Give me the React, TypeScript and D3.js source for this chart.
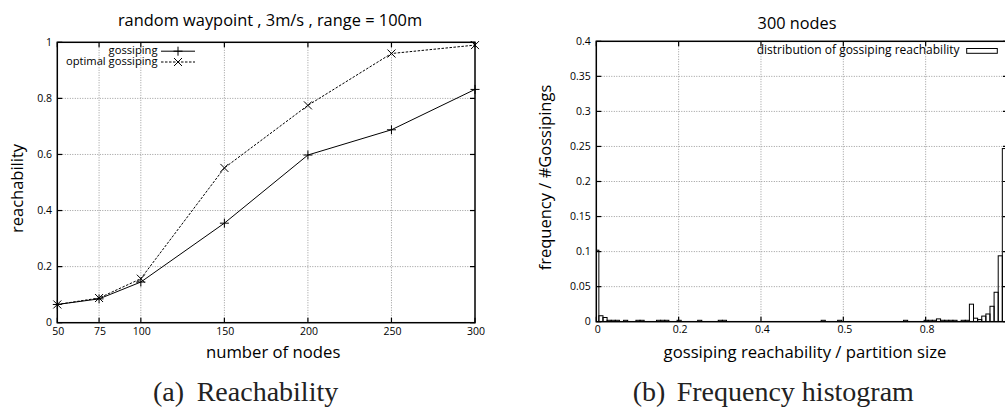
import React from "react";
import * as d3 from "d3";

// ---- Left chart data ----
const nodeCounts = [50, 75, 100, 150, 200, 250, 300];
const gossiping = [0.065, 0.085, 0.145, 0.355, 0.598, 0.688, 0.832];
const optimalGossiping = [0.065, 0.088, 0.157, 0.552, 0.775, 0.96, 0.99];
const leftXTicks = [50, 75, 100, 150, 200, 250, 300];
const leftYTicks = [0, 0.2, 0.4, 0.6, 0.8, 1];
const leftYTickLabels = ["0", "0.2", "0.4", "0.6", "0.8", "1"];

// ---- Right chart data (bin centers, frequency) ----
const binCenters = [
  0, 0.01, 0.02, 0.03, 0.04, 0.05, 0.07, 0.1, 0.11, 0.15, 0.16, 0.17, 0.2, 0.25, 0.3, 0.31,
  0.55, 0.59, 0.75, 0.8, 0.81, 0.82, 0.83, 0.84, 0.85, 0.86, 0.87, 0.89, 0.9, 0.91, 0.92,
  0.93, 0.94, 0.95, 0.96, 0.97, 0.98, 0.99,
];
const binFreqs = [
  0.102, 0.0085, 0.006, 0.002, 0.002, 0.002, 0.002, 0.002, 0.002, 0.002, 0.002, 0.002, 0.002,
  0.002, 0.002, 0.002, 0.002, 0.002, 0.002, 0.002, 0.002, 0.002, 0.004, 0.002, 0.002, 0.002,
  0.002, 0.002, 0.002, 0.025, 0.005, 0.003, 0.008, 0.011, 0.022, 0.042, 0.094, 0.247,
];
const binWidth = 0.01;
const rightXTicks = [0, 0.2, 0.4, 0.6, 0.8];
const rightXTickLabels = ["0", "0.2", "0.4", "0.5", "0.8"];
const rightYTicks = [0, 0.05, 0.1, 0.15, 0.2, 0.25, 0.3, 0.35, 0.4];
const rightYTickLabels = ["0", "0.05", "0.1", "0.15", "0.2", "0.25", "0.3", "0.35", "0.4"];

const SANS = "'Open Sans', 'Noto Sans', sans-serif";
const SERIF = "'Liberation Serif', serif";
const GRID = "#9a9a9a";

export default function App() {
  const xA = d3.scaleLinear().domain([50, 300]).range([57.3, 475]);
  const yA = d3.scaleLinear().domain([0, 1]).range([322.7, 42.3]);
  const xB = d3.scaleLinear().domain([0, 1]).range([596.3, 1008]);
  const yB = d3.scaleLinear().domain([0, 0.4]).range([321.7, 41.3]);

  const lineGen = d3
    .line<[number, number]>()
    .x((d) => xA(d[0]))
    .y((d) => yA(d[1]));
  const gPts: [number, number][] = nodeCounts.map((n, i) => [n, gossiping[i]]);
  const oPts: [number, number][] = nodeCounts.map((n, i) => [n, optimalGossiping[i]]);

  const plus = (x: number, y: number, k: string) => (
    <g key={k} stroke="#000" strokeWidth={1}>
      <line x1={x - 4.5} x2={x + 4.5} y1={y} y2={y} />
      <line x1={x} x2={x} y1={y - 4.5} y2={y + 4.5} />
    </g>
  );
  const cross = (x: number, y: number, k: string) => (
    <g key={k} stroke="#000" strokeWidth={1}>
      <line x1={x - 4} x2={x + 4} y1={y - 4} y2={y + 4} />
      <line x1={x - 4} x2={x + 4} y1={y + 4} y2={y - 4} />
    </g>
  );

  const [aL, aR] = xA.range();
  const [aB, aT] = yA.range();
  const [bL, bR] = xB.range();
  const [bB, bT] = yB.range();

  return (
    <svg
      width={1005}
      height={408}
      style={{ position: "absolute", left: 0, top: 0, background: "#fff" }}
    >
      <rect x={0} y={0} width={1005} height={408} fill="#fff" />
      {/* ================= LEFT CHART ================= */}
      <g>
        {leftXTicks.slice(1, -1).map((t) => (
          <line key={"gx" + t} x1={xA(t)} x2={xA(t)} y1={aT} y2={aB} stroke={GRID} strokeWidth={1} strokeDasharray="1,1.5" />
        ))}
        {leftYTicks.slice(1, -1).map((t) => (
          <line key={"gy" + t} x1={aL} x2={aR} y1={yA(t)} y2={yA(t)} stroke={GRID} strokeWidth={1} strokeDasharray="1,1.5" />
        ))}
        {leftXTicks.map((t) => (
          <g key={"tx" + t} stroke="#000" strokeWidth={1.2}>
            <line x1={xA(t)} x2={xA(t)} y1={aB} y2={aB - 5} />
            <line x1={xA(t)} x2={xA(t)} y1={aT} y2={aT + 5} />
          </g>
        ))}
        {leftYTicks.map((t) => (
          <g key={"ty" + t} stroke="#000" strokeWidth={1.2}>
            <line x1={aL} x2={aL + 5} y1={yA(t)} y2={yA(t)} />
            <line x1={aR} x2={aR - 5} y1={yA(t)} y2={yA(t)} />
          </g>
        ))}
        <rect x={aL} y={aT} width={aR - aL} height={aB - aT} fill="none" stroke="#000" strokeWidth={1.5} />
        <path d={lineGen(gPts) || ""} fill="none" stroke="#000" strokeWidth={1} />
        <path d={lineGen(oPts) || ""} fill="none" stroke="#000" strokeWidth={1} strokeDasharray="2.5,1.5" />
        {gPts.map((p, i) => plus(xA(p[0]), yA(p[1]), "gp" + i))}
        {oPts.map((p, i) => cross(xA(p[0]), yA(p[1]), "op" + i))}
        {leftXTicks.map((t) => (
          <text key={"lx" + t} x={xA(t) + 1} y={335} textAnchor="middle" fontFamily={SANS} fontSize={10.5} fill="#000">
            {t}
          </text>
        ))}
        {leftYTicks.map((t, i) => (
          <text key={"ly" + t} x={52} y={yA(t) + 3.5} textAnchor="end" fontFamily={SANS} fontSize={10.5} fill="#000">
            {leftYTickLabels[i]}
          </text>
        ))}
        {/* legend */}
        <text x={157.5} y={53.5} textAnchor="end" fontFamily={SANS} fontSize={11.2} fill="#000">gossiping</text>
        <line x1={161} x2={195} y1={51.2} y2={51.2} stroke="#000" strokeWidth={1} />
        {plus(178, 51.2, "legp")}
        <text x={157.5} y={64.5} textAnchor="end" fontFamily={SANS} fontSize={11.2} fill="#000">optimal gossiping</text>
        <line x1={161} x2={195} y1={62} y2={62} stroke="#000" strokeWidth={1} strokeDasharray="2.5,1.5" />
        {cross(178, 62, "lego")}
        {/* titles */}
        <text x={270} y={26} textAnchor="middle" fontFamily={SANS} fontSize={16.4} fill="#000">
          random waypoint , 3m/s , range = 100m
        </text>
        <text x={(aL + aR) / 2 + 7} y={357.5} textAnchor="middle" fontFamily={SANS} fontSize={16.7} fill="#000">
          number of nodes
        </text>
        <text transform={`translate(22.5,${(aT + aB) / 2 + 6}) rotate(-90)`} textAnchor="middle" fontFamily={SANS} fontSize={16.5} fill="#000">
          reachability
        </text>
        <text x={153} y={401} fontFamily={SERIF} fontSize={28} fill="#222">(a)</text>
        <text x={196.7} y={401} fontFamily={SERIF} fontSize={28} fill="#222">Reachability</text>
      </g>

      {/* ================= RIGHT CHART ================= */}
      <g>
        {rightXTicks.slice(1).map((t) => (
          <line key={"rgx" + t} x1={xB(t)} x2={xB(t)} y1={bT} y2={bB} stroke={GRID} strokeWidth={1} strokeDasharray="1,1.5" />
        ))}
        {rightYTicks.slice(1, -1).map((t) => (
          <line key={"rgy" + t} x1={bL} x2={bR} y1={yB(t)} y2={yB(t)} stroke={GRID} strokeWidth={1} strokeDasharray="1,1.5" />
        ))}
        {rightXTicks.map((t) => (
          <g key={"rtx" + t} stroke="#000" strokeWidth={1.2}>
            <line x1={xB(t)} x2={xB(t)} y1={bB} y2={bB - 5} />
            <line x1={xB(t)} x2={xB(t)} y1={bT} y2={bT + 5} />
          </g>
        ))}
        {rightYTicks.map((t) => (
          <g key={"rty" + t} stroke="#000" strokeWidth={1.2}>
            <line x1={bL} x2={bL + 5} y1={yB(t)} y2={yB(t)} />
            <line x1={bR} x2={bR - 5} y1={yB(t)} y2={yB(t)} />
          </g>
        ))}
        <defs>
          <clipPath id="histClip">
            <rect x={bL} y={bT} width={bR - bL} height={bB - bT} />
          </clipPath>
        </defs>
        <g clipPath="url(#histClip)">
          {binCenters.map((c, i) => {
            const x0 = xB(c - binWidth / 2);
            const x1 = xB(c + binWidth / 2);
            return (
              <rect
                key={"bar" + i}
                x={x0 + 0.5}
                y={yB(binFreqs[i])}
                width={x1 - x0}
                height={bB - yB(binFreqs[i])}
                fill="none"
                stroke="#000"
                strokeWidth={1}
              />
            );
          })}
        </g>
        <rect x={bL} y={bT} width={bR - bL} height={bB - bT} fill="none" stroke="#000" strokeWidth={1.5} />
        {rightXTicks.map((t, i) => (
          <text key={"rlx" + t} x={xB(t) + 1.5} y={333.3} textAnchor="middle" fontFamily={SANS} fontSize={10.5} fill="#000">
            {rightXTickLabels[i]}
          </text>
        ))}
        {rightYTicks.map((t, i) => (
          <text key={"rly" + t} x={590.7} y={yB(t) + 3.5} textAnchor="end" fontFamily={SANS} fontSize={10.5} fill="#000">
            {rightYTickLabels[i]}
          </text>
        ))}
        <text x={959.5} y={53.5} textAnchor="end" fontFamily={SANS} fontSize={12} fill="#000">
          distribution of gossiping reachability
        </text>
        <rect x={966.7} y={48.5} width={30.6} height={4.8} fill="none" stroke="#000" strokeWidth={1} />
        <text x={797} y={29} textAnchor="middle" fontFamily={SANS} fontSize={16.3} fill="#000">300 nodes</text>
        <text x={805} y={357.5} textAnchor="middle" fontFamily={SANS} fontSize={16.7} fill="#000">
          gossiping reachability / partition size
        </text>
        <text transform={`translate(551,${(bT + bB) / 2 - 4}) rotate(-90)`} textAnchor="middle" fontFamily={SANS} fontSize={16.5} fill="#000">
          frequency / #Gossipings
        </text>
        <text x={632.7} y={401} fontFamily={SERIF} fontSize={28} fill="#222">(b)</text>
        <text x={676.7} y={401} fontFamily={SERIF} fontSize={28} fill="#222">Frequency histogram</text>
      </g>
    </svg>
  );
}
